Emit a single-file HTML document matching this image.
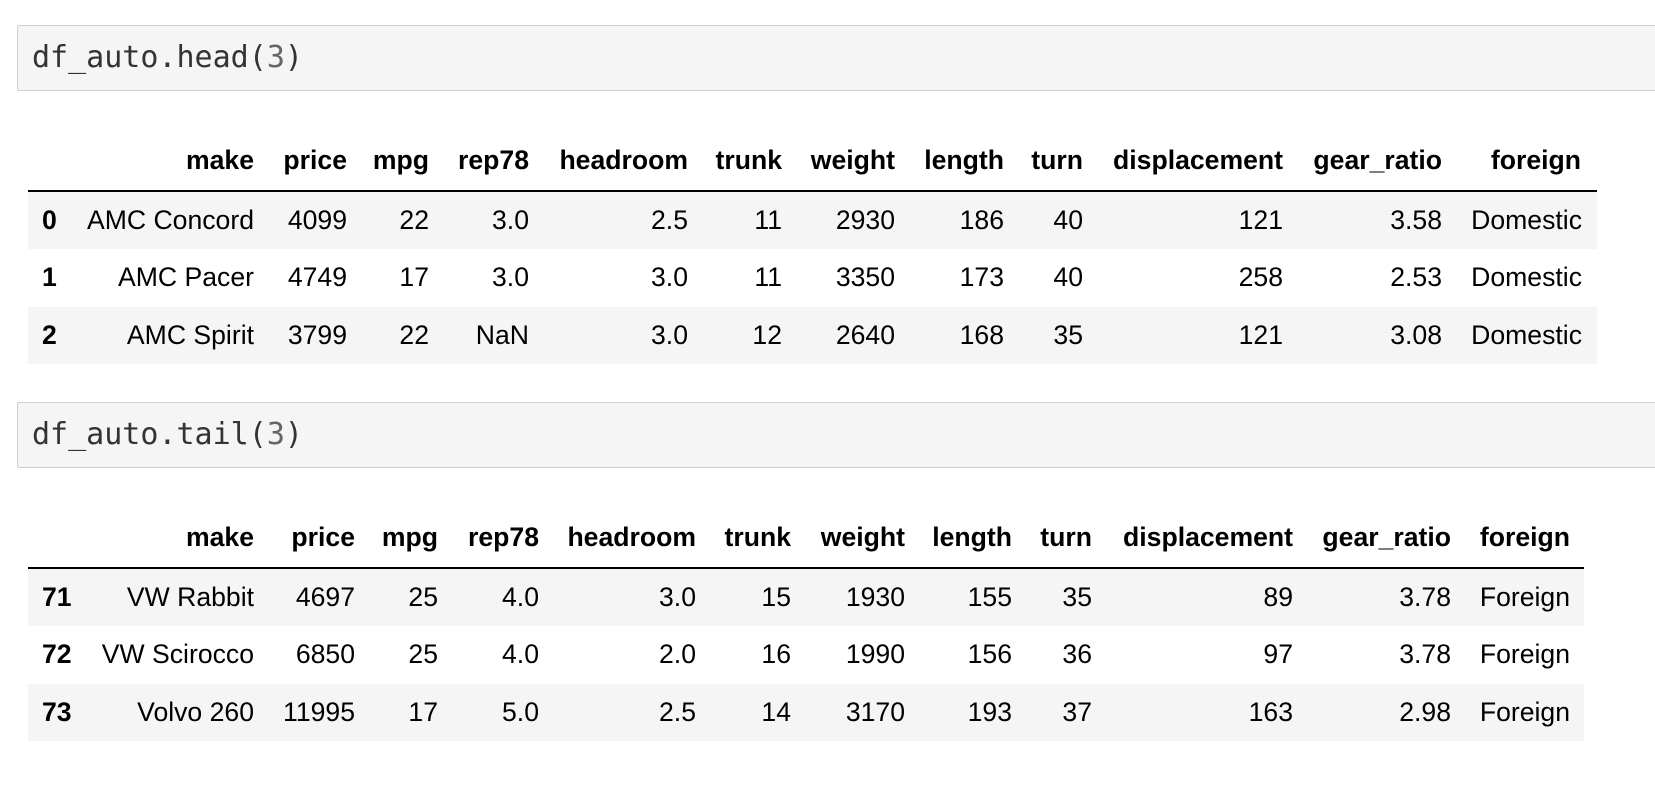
<!DOCTYPE html>
<html><head><meta charset="utf-8">
<style>
body{margin:0;width:1655px;height:799px;background:#fff;position:relative;overflow:hidden;font-family:"Liberation Sans",Arial,sans-serif;}
.cell{position:absolute;left:17px;width:1660px;background:#f5f5f5;border:1px solid #cfcfcf;border-radius:2px;box-sizing:border-box;}
.code{position:absolute;left:14px;font-family:"DejaVu Sans Mono","Liberation Mono",monospace;font-size:30px;color:#333;white-space:pre;}
.num{color:#666;}
.tbl{position:absolute;left:28px;}
.row{position:absolute;left:0;height:57px;}
.t{position:absolute;font-size:26.6px;color:#000;white-space:nowrap;line-height:57px;top:0;}
.b{font-weight:bold;}
</style></head>
<body>
<div class="cell" style="top:25px;height:66px;">
  <div class="code" style="top:14px;">df_auto.head(<span class="num">3</span>)</div>
</div>
<div class="cell" style="top:402px;height:66px;">
  <div class="code" style="top:14px;">df_auto.tail(<span class="num">3</span>)</div>
</div>
<div id="t1" class="tbl"></div>
<div id="t2" class="tbl"></div>
<script>
const columns=["make","price","mpg","rep78","headroom","trunk","weight","length","turn","displacement","gear_ratio","foreign"];
const headIndex=["0","1","2"];
const headRows=[
["AMC Concord","4099","22","3.0","2.5","11","2930","186","40","121","3.58","Domestic"],
["AMC Pacer","4749","17","3.0","3.0","11","3350","173","40","258","2.53","Domestic"],
["AMC Spirit","3799","22","NaN","3.0","12","2640","168","35","121","3.08","Domestic"]];
const tailIndex=["71","72","73"];
const tailRows=[
["VW Rabbit","4697","25","4.0","3.0","15","1930","155","35","89","3.78","Foreign"],
["VW Scirocco","6850","25","4.0","2.0","16","1990","156","36","97","3.78","Foreign"],
["Volvo 260","11995","17","5.0","2.5","14","3170","193","37","163","2.98","Foreign"]];
const head1Right=[254,347,429,529,688,782,895,1004,1083,1283,1442,1581];
const head2Right=[254,355,438,539,696,791,905,1012,1092,1293,1451,1570];
function build(id,top,width,rights,idx,rows,foreignRight){
  const t=document.getElementById(id);
  t.style.top=top+'px';
  const L=28;
  const h=document.createElement('div');h.className='row';h.style.top='0px';h.style.width=width+'px';h.style.height='60px';
  
  
  h.style.borderBottom='2px solid #000';
  columns.forEach((c,i)=>{
    const s=document.createElement('div');s.className='t b';s.textContent=c;
    s.style.lineHeight='60px';
    s.style.right=(width-(rights[i]-L))+'px';
    
    
    h.appendChild(s);
  });
  t.appendChild(h);
  rows.forEach((r,ri)=>{
    const rw=document.createElement('div');rw.className='row';
    rw.style.top=(62+ri*57.3)+'px';rw.style.width=width+'px';rw.style.height='57.3px';
    rw.style.background=ri%2===0?'#f5f5f5':'#fff';
    
    
    const ix=document.createElement('div');ix.className='t b';ix.textContent=idx[ri];ix.style.left='14px';
    
    
    rw.appendChild(ix);
    r.forEach((v,i)=>{
      const s=document.createElement('div');s.className='t';s.textContent=v;
      s.style.right=(width-(rights[i]-L)-(i===11?foreignRight:0))+'px';
      
      
      rw.appendChild(s);
    });
    t.appendChild(rw);
  });
}
build('t1',130,1569,head1Right,headIndex,headRows,1);
build('t2',507,1556,head2Right,tailIndex,tailRows,0);
</script>
</body></html>
